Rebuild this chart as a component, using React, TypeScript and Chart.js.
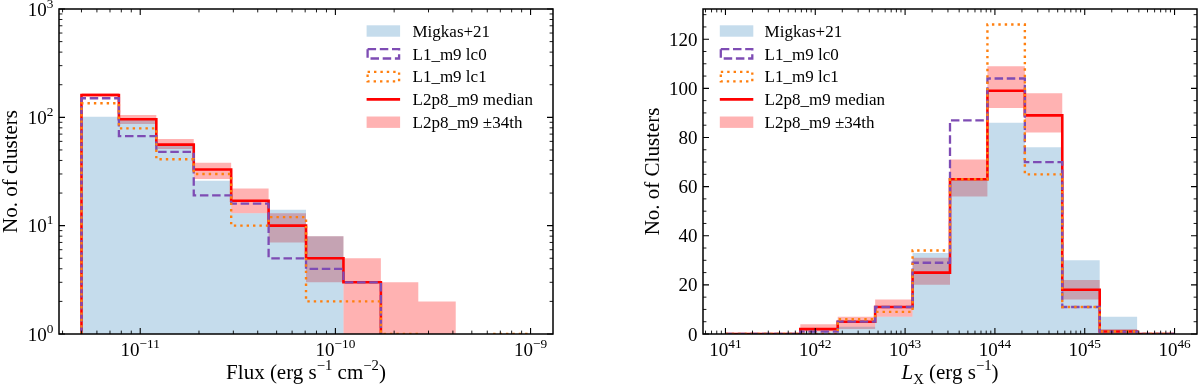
import React, { useEffect, useRef } from 'react';
import { Chart, registerables } from 'chart.js';

Chart.register(...registerables);

// ---------------- Left panel: flux histogram ----------------
const fluxEdges = [5.0e-12, 7.776e-12, 1.2092e-11, 1.8805e-11, 2.9243e-11, 4.5477e-11, 7.0722e-11, 1.0998e-10, 1.7103e-10, 2.6597e-10, 4.1361e-10, 6.4321e-10, 1.0e-9];
const fluxMigkas = [101, 96, 56, 26, 13, 14, 8, 0, 0, 0, 0, 0];
const fluxLc0 = [150, 67, 48, 19, 16, 5, 4, 3, 0, 0, 0, 0];
const fluxLc1 = [135, 79, 41, 30, 10, 12, 2, 2, 1, 0, 0, 1];
const fluxMedian = [161, 96, 56, 33, 17, 10, 5, 3, 0, 0, 0, 0];
const fluxLow = [155, 87, 51, 27, 13, 7, 3, 0, 0, 0, 0, 0];
const fluxHigh = [167, 105, 63, 38, 22, 13, 8, 5, 3, 2, 0, 0];
const fluxXMajor = [1e-11, 1e-10, 1e-9];
const fluxYMajor = [1, 10, 100, 1000];

// ---------------- Right panel: L_X histogram ----------------
const lxEdges = [1e41, 2.6102e41, 6.8129e41, 1.7783e42, 4.6416e42, 1.2115e43, 3.1623e43, 8.254e43, 2.1544e44, 5.6234e44, 1.4678e45, 3.8312e45, 1e46];
const lxMigkas = [0, 0, 1, 3, 7, 33, 63, 86, 76, 30, 7, 0];
const lxLc0 = [0, 0, 1, 5, 11, 29, 87, 104, 70, 11, 1, 0];
const lxLc1 = [0, 0, 0, 6, 9, 34, 63, 126, 65, 11, 1, 0];
const lxMedian = [0, 0, 2, 5, 11, 25, 63, 99, 89, 18, 1, 0];
const lxLow = [0, 0, 1, 2, 7, 20, 56, 92, 82, 14, 0, 0];
const lxHigh = [0, 0, 4, 7, 14, 31, 71, 109, 98, 22, 2, 0];
const lxXMajor = [1e41, 1e42, 1e43, 1e44, 1e45, 1e46];
const lxYMajor = [0, 20, 40, 60, 80, 100, 120];

const legendLabels = ['Migkas+21', 'L1_m9 lc0', 'L1_m9 lc1', 'L2p8_m9 median', 'L2p8_m9 ±34th'];

// ---------------- styles ----------------
const C_MIGKAS = 'rgba(31,119,180,0.26)';
const C_BAND = 'rgba(255,0,0,0.30)';
const C_MEDIAN = '#ff0000';
const C_LC0 = '#7e4cb4';
const C_LC1 = '#ff7f0e';
const DASH_LC0 = [8.5, 3.7];
const DASH_LC1 = [2.4, 4.0];
const FONT = '"Liberation Serif", "DejaVu Serif", serif';

type Pt = { x: number; y: number | null };
type Piece = { t: string; mode?: 'sup' | 'sub'; italic?: boolean };

function filledSteps(edges: number[], vals: number[], floor: number): Pt[] {
  const pts: Pt[] = vals.map((v, i) => ({ x: edges[i], y: Math.max(v, floor) }));
  pts.push({ x: edges[edges.length - 1], y: Math.max(vals[vals.length - 1], floor) });
  return pts;
}

function lineSteps(edges: number[], vals: number[], logY: boolean): Pt[] {
  const base = logY ? 1 : 0;
  const pts: Pt[] = [{ x: edges[0], y: base }];
  vals.forEach((v, i) => {
    if (logY && v <= 0) {
      pts.push({ x: edges[i], y: base });
      pts.push({ x: edges[i], y: null });
      pts.push({ x: edges[i + 1], y: base });
    } else {
      pts.push({ x: edges[i], y: v });
      pts.push({ x: edges[i + 1], y: v });
    }
  });
  pts.push({ x: edges[edges.length - 1], y: base });
  return pts;
}

function font(size: number, italic = false) {
  return `${italic ? 'italic ' : ''}${size}px ${FONT}`;
}

function richWidth(ctx: CanvasRenderingContext2D, pieces: Piece[], size: number) {
  let w = 0;
  for (const p of pieces) {
    ctx.font = font(p.mode ? size * 0.7 : size, p.italic);
    w += ctx.measureText(p.t).width;
  }
  return w;
}

function drawRich(ctx: CanvasRenderingContext2D, pieces: Piece[], x: number, y: number, size: number, align: 'left' | 'center' | 'right') {
  const w = richWidth(ctx, pieces, size);
  let cx = align === 'left' ? x : align === 'center' ? x - w / 2 : x - w;
  ctx.textAlign = 'left';
  ctx.textBaseline = 'alphabetic';
  for (const p of pieces) {
    const s = p.mode ? size * 0.7 : size;
    ctx.font = font(s, p.italic);
    const dy = p.mode === 'sup' ? -size * 0.42 : p.mode === 'sub' ? size * 0.22 : 0;
    ctx.fillText(p.t, cx, y + dy);
    cx += ctx.measureText(p.t).width;
  }
}

function powLabel(v: number): Piece[] {
  const e = Math.round(Math.log10(v));
  return [{ t: '10' }, { t: e < 0 ? '\u2212' + Math.abs(e) : String(e), mode: 'sup' }];
}

function logMinors(min: number, max: number): number[] {
  const out: number[] = [];
  for (let k = Math.floor(Math.log10(min)) - 1; k <= Math.ceil(Math.log10(max)); k++) {
    for (let m = 2; m <= 9; m++) {
      const v = m * Math.pow(10, k);
      if (v >= min && v <= max) out.push(v);
    }
  }
  return out;
}

type FrameCfg = {
  xMajor: number[];
  xMinor: number[];
  yMajor: number[];
  yMinor: number[];
  yLabel: (v: number) => Piece[];
  xTitle: Piece[];
  yTitle: Piece[];
  yTitleX: number;
  legendHandleX: number;
  legendTextX: number;
};

function makeFrame(cfg: FrameCfg) {
  return {
    id: 'mplFrame',
    afterDraw(chart: any) {
      const ctx: CanvasRenderingContext2D = chart.ctx;
      const { left, right, top, bottom } = chart.chartArea;
      const xs = chart.scales.x;
      const ys = chart.scales.y;
      ctx.save();
      ctx.fillStyle = '#000';
      ctx.strokeStyle = '#000';
      ctx.setLineDash([]);
      // ticks, inward on all four sides
      const tickX = (v: number, len: number) => {
        const px = xs.getPixelForValue(v);
        if (px < left - 0.5 || px > right + 0.5) return;
        ctx.beginPath();
        ctx.moveTo(px, bottom);
        ctx.lineTo(px, bottom - len);
        ctx.moveTo(px, top);
        ctx.lineTo(px, top + len);
        ctx.stroke();
      };
      const tickY = (v: number, len: number) => {
        const py = ys.getPixelForValue(v);
        if (py < top - 0.5 || py > bottom + 0.5) return;
        ctx.beginPath();
        ctx.moveTo(left, py);
        ctx.lineTo(left + len, py);
        ctx.moveTo(right, py);
        ctx.lineTo(right - len, py);
        ctx.stroke();
      };
      ctx.lineWidth = 0.9;
      cfg.xMinor.forEach((v) => tickX(v, 3.4));
      cfg.yMinor.forEach((v) => tickY(v, 3.4));
      ctx.lineWidth = 1.1;
      cfg.xMajor.forEach((v) => tickX(v, 6));
      cfg.yMajor.forEach((v) => tickY(v, 6));
      // frame
      ctx.lineWidth = 1.5;
      ctx.strokeRect(left, top, right - left, bottom - top);
      // tick labels
      cfg.xMajor.forEach((v) => {
        const px = xs.getPixelForValue(v);
        drawRich(ctx, powLabel(v), px, bottom + 22, 19, 'center');
      });
      cfg.yMajor.forEach((v) => {
        const py = ys.getPixelForValue(v);
        drawRich(ctx, cfg.yLabel(v), left - 5.5, py + 6.5, 19, 'right');
      });
      // axis titles
      drawRich(ctx, cfg.xTitle, (left + right) / 2, 379, 21, 'center');
      ctx.save();
      ctx.translate(cfg.yTitleX, (top + bottom) / 2);
      ctx.rotate(-Math.PI / 2);
      drawRich(ctx, cfg.yTitle, 0, 0, 21, 'center');
      ctx.restore();
      // legend
      const hx = cfg.legendHandleX;
      const hw = 33.5;
      const hh = 11.4;
      legendLabels.forEach((label, i) => {
        const cy = 31 + i * 22.8;
        ctx.save();
        if (i === 0 || i === 4) {
          ctx.fillStyle = i === 0 ? C_MIGKAS : C_BAND;
          ctx.fillRect(hx, cy - hh / 2, hw, hh);
        } else if (i === 1 || i === 2) {
          ctx.strokeStyle = i === 1 ? C_LC0 : C_LC1;
          ctx.lineWidth = 2.3;
          ctx.setLineDash(i === 1 ? DASH_LC0 : DASH_LC1);
          ctx.strokeRect(hx + 1, cy - hh / 2 + 1, hw - 2, hh - 2);
        } else {
          ctx.strokeStyle = C_MEDIAN;
          ctx.lineWidth = 2.6;
          ctx.beginPath();
          ctx.moveTo(hx, cy);
          ctx.lineTo(hx + hw, cy);
          ctx.stroke();
        }
        ctx.restore();
        ctx.fillStyle = '#000';
        ctx.font = font(17);
        ctx.textAlign = 'left';
        ctx.textBaseline = 'alphabetic';
        ctx.fillText(label, cfg.legendTextX, cy + 5.8);
      });
      ctx.restore();
    },
  };
}

function buildDatasets(edges: number[], migkas: number[], lc0: number[], lc1: number[], median: number[], low: number[], high: number[], logY: boolean) {
  const floor = logY ? 1 : 0;
  const common = { pointRadius: 0, pointHitRadius: 0, tension: 0, spanGaps: false };
  return [
    {
      ...common,
      label: legendLabels[0],
      data: filledSteps(edges, migkas, floor),
      stepped: true,
      borderWidth: 0,
      borderColor: 'rgba(0,0,0,0)',
      backgroundColor: C_MIGKAS,
      fill: 'start',
      order: 3,
    },
    {
      ...common,
      label: legendLabels[1],
      data: lineSteps(edges, lc0, logY),
      borderColor: C_LC0,
      borderWidth: 2.3,
      borderDash: DASH_LC0,
      borderCapStyle: 'butt',
      borderJoinStyle: 'miter',
      fill: false,
      order: 1,
    },
    {
      ...common,
      label: legendLabels[2],
      data: lineSteps(edges, lc1, logY),
      borderColor: C_LC1,
      borderWidth: 2.4,
      borderDash: DASH_LC1,
      borderCapStyle: 'butt',
      borderJoinStyle: 'miter',
      fill: false,
      order: 0,
    },
    {
      ...common,
      label: legendLabels[3],
      data: lineSteps(edges, median, logY),
      borderColor: C_MEDIAN,
      borderWidth: 2.6,
      borderCapStyle: 'butt',
      borderJoinStyle: 'miter',
      fill: false,
      order: 2,
    },
    {
      ...common,
      label: legendLabels[4],
      data: filledSteps(edges, high, floor),
      stepped: true,
      borderWidth: 0,
      borderColor: 'rgba(0,0,0,0)',
      backgroundColor: C_BAND,
      fill: 5,
      order: 4,
    },
    {
      ...common,
      label: 'lower',
      data: filledSteps(edges, low, floor),
      stepped: true,
      borderWidth: 0,
      borderColor: 'rgba(0,0,0,0)',
      backgroundColor: 'rgba(0,0,0,0)',
      fill: false,
      order: 5,
    },
  ];
}

const baseOptions = {
  responsive: false,
  maintainAspectRatio: false,
  animation: false as const,
  devicePixelRatio: 1,
  events: [] as any[],
  plugins: { legend: { display: false }, tooltip: { enabled: false }, title: { display: false } },
};

function leftConfig(): any {
  const xmin = 3.8358e-12;
  const xmax = 1.303e-9;
  return {
    type: 'line',
    data: { datasets: buildDatasets(fluxEdges, fluxMigkas, fluxLc0, fluxLc1, fluxMedian, fluxLow, fluxHigh, true) },
    options: {
      ...baseOptions,
      layout: { padding: { left: 59, right: 47, top: 9, bottom: 52 } },
      scales: {
        x: { type: 'logarithmic', min: xmin, max: xmax, display: false, bounds: 'data' },
        y: { type: 'logarithmic', min: 1, max: 1000, display: false, bounds: 'data' },
      },
    },
    plugins: [
      makeFrame({
        xMajor: fluxXMajor,
        xMinor: logMinors(xmin, xmax),
        yMajor: fluxYMajor,
        yMinor: logMinors(1, 1000),
        yLabel: powLabel,
        xTitle: [{ t: 'Flux (erg s' }, { t: '\u22121', mode: 'sup' }, { t: ' cm' }, { t: '\u22122', mode: 'sup' }, { t: ')' }],
        yTitle: [{ t: 'No. of clusters' }],
        yTitleX: 17,
        legendHandleX: 366.6,
        legendTextX: 412.5,
      }),
    ],
  };
}

function rightConfig(): any {
  const xmin = 5.6234e40;
  const xmax = 1.7783e46;
  const ymax = 132.3;
  const yMinor: number[] = [];
  for (let v = 5; v < ymax; v += 5) if (v % 20 !== 0) yMinor.push(v);
  return {
    type: 'line',
    data: { datasets: buildDatasets(lxEdges, lxMigkas, lxLc0, lxLc1, lxMedian, lxLow, lxHigh, false) },
    options: {
      ...baseOptions,
      layout: { padding: { left: 103, right: 3, top: 9, bottom: 52 } },
      scales: {
        x: { type: 'logarithmic', min: xmin, max: xmax, display: false, bounds: 'data' },
        y: { type: 'linear', min: 0, max: ymax, display: false, bounds: 'data' },
      },
    },
    plugins: [
      makeFrame({
        xMajor: lxXMajor,
        xMinor: logMinors(xmin, xmax),
        yMajor: lxYMajor,
        yMinor,
        yLabel: (v: number) => [{ t: String(v) }],
        xTitle: [{ t: 'L', italic: true }, { t: 'X', mode: 'sub' }, { t: ' (erg s' }, { t: '\u22121', mode: 'sup' }, { t: ')' }],
        yTitle: [{ t: 'No. of Clusters' }],
        yTitleX: 59,
        legendHandleX: 119.8,
        legendTextX: 164.6,
      }),
    ],
  };
}

export default function App() {
  const leftRef = useRef<HTMLCanvasElement>(null);
  const rightRef = useRef<HTMLCanvasElement>(null);
  useEffect(() => {
    const c1 = new Chart(leftRef.current as HTMLCanvasElement, leftConfig());
    const c2 = new Chart(rightRef.current as HTMLCanvasElement, rightConfig());
    return () => {
      c1.destroy();
      c2.destroy();
    };
  }, []);
  return (
    <div style={{ position: 'absolute', left: 0, top: 0, width: 1200, height: 386, background: '#fff', overflow: 'hidden' }}>
      <canvas ref={leftRef} width={600} height={386} style={{ position: 'absolute', left: 0, top: 0, width: 600, height: 386 }} />
      <canvas ref={rightRef} width={600} height={386} style={{ position: 'absolute', left: 600, top: 0, width: 600, height: 386 }} />
    </div>
  );
}
